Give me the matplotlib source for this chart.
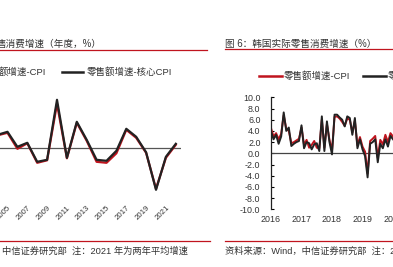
import numpy as np
import matplotlib
matplotlib.use("Agg")
import matplotlib.pyplot as plt
from matplotlib.lines import Line2D

plt.rcParams['font.family'] = ['Liberation Sans', 'Noto Sans CJK SC']

# left panel: annual data
years = list(range(2004, 2023))
left_cpi = [2.6, 3.1, -0.1, 1.0, -2.9, -2.4, 8.9, -2.0, 5.1, 1.5, -2.7,
            -2.9, -1.0, 3.7, 2.1, -0.9, -8.1, -1.9, 0.7]
left_core = [2.7, 3.3, 0.3, 1.1, -2.7, -2.3, 9.7, -1.9, 5.3, 1.7, -2.3,
             -2.5, -0.5, 3.9, 2.3, -0.8, -8.3, -1.7, 0.9]
left_ticks = list(range(2005, 2022, 2))

# right panel: monthly data from 2016-01
right_cpi = [4.5, 3.0, 3.6, 2.5, 3.5, 6.8, 4.4, 4.0, 1.8, 2.0, 2.3, 2.6,
             4.6, 1.5, 2.4, 1.0, 1.5, 2.2, 1.0, 0.9, 6.0, 1.0, 5.2, 2.4,
             0.5, 6.5, 6.6, 6.2, 5.6, 4.9, 6.2, 6.0, 3.7, 5.8, 1.4, 2.9,
             1.2, 0.3, -3.6, 2.2, 2.6, 3.1, -0.8, 2.4, 1.6, 3.3, 2.0, 3.6, 3.0]
right_core = [3.9, 2.5, 3.3, 1.7, 3.0, 7.3, 4.0, 4.6, 1.3, 1.7, 2.0, 2.2,
              5.0, 0.9, 2.0, 1.8, 0.7, 1.6, 1.8, 0.4, 6.6, 0.4, 5.7, 2.0,
              -0.2, 6.9, 6.9, 6.4, 6.0, 4.8, 6.6, 6.3, 3.3, 6.3, 0.9, 2.5,
              0.7, -0.5, -4.3, 1.7, 2.0, 2.5, -1.6, 1.7, 0.9, 2.5, 1.2, 3.1, 2.5]
right_years = ['2016', '2017', '2018', '2019', '2020']

W, H = 393, 267
fig = plt.figure(figsize=(W / 100, H / 100), dpi=100)

def fx(x):
    return x / W

def fy(y):
    return 1 - y / H

def hline(x0, x1, y, color, lw=0.9):
    fig.add_artist(Line2D([fx(x0), fx(x1)], [fy(y), fy(y)], color=color, lw=lw,
                          transform=fig.transFigure))

red = '#c0141e'
blk = '#222222'
txt = '#333333'

# ---- left panel ----
# x: 2005 at 7.5px, 9.9 px per year; axes from 0 to 181 px
axl = fig.add_axes([fx(0), fy(200), fx(181), (200 - 85) / H])
axl.set_xlim(2005 - 7.5 / 9.9, 2005 + (181 - 7.5) / 9.9)
axl.set_ylim((148.3 - 200) / 5, (148.3 - 85) / 5)
axl.axhline(0, color='#555555', lw=0.9)
axl.plot(years, left_cpi, color=red, lw=1.6)
axl.plot(years, left_core, color=blk, lw=1.6)
for s in axl.spines.values():
    s.set_visible(False)
axl.set_yticks([])
axl.set_xticks(left_ticks)
axl.set_xticklabels([str(y) for y in left_ticks], rotation=45, ha='right',
                    rotation_mode='anchor', fontsize=5.6, color=txt)
axl.tick_params(axis='x', length=0, pad=3)

fig.text(fx(-3), fy(44), '售消费增速（年度，%）', fontsize=6.9, color=txt,
         va='center', ha='left')
hline(0, 207, 49.5, red)
fig.text(fx(-1), fy(72), '额增速-CPI', fontsize=6.8, color=txt, va='center')
hline(62, 83, 72, blk, lw=1.8)
fig.text(fx(87), fy(72), '零售额增速-核心CPI', fontsize=6.8, color=txt, va='center')
hline(0, 210, 240.5, red)
fig.text(fx(2), fy(251), '中信证券研究部  注：2021 年为两年平均增速', fontsize=6.7,
         color=txt, va='center')

# ---- right panel ----
# 2.542 px per month, month 0 at 271 px; axes extends beyond figure edge
axr = fig.add_axes([fx(271), fy(209.3), fx(400 - 271), (209.3 - 97.3) / H])
axr.set_xlim(0, (400 - 271) / 2.542)
axr.set_ylim(-10, 10)
axr.axhline(0, color='#444444', lw=0.9)
months = np.arange(len(right_core))
axr.plot(months, right_cpi, color=red, lw=1.4)
axr.plot(months, right_core, color=blk, lw=1.4)
for k in ['top', 'right', 'bottom']:
    axr.spines[k].set_visible(False)
axr.spines['left'].set_color(blk)
axr.spines['left'].set_linewidth(0.9)
axr.set_yticks(np.arange(-10, 11, 2))
axr.set_yticklabels(['%.1f' % v for v in np.arange(-10, 11, 2)], fontsize=6.4, color=txt)
axr.tick_params(axis='y', direction='in', length=2.5, width=0.8, pad=7.5)
axr.set_xticks(np.arange(len(right_years)) * 12)
axr.set_xticklabels(right_years, fontsize=6.4, color=txt)
axr.tick_params(axis='x', length=0, pad=4)

fig.text(fx(225), fy(43.5), '图 6：韩国实际零售消费增速（%）', fontsize=6.9, color=txt,
         va='center')
hline(225, 393, 49, red)
hline(259, 282, 76, red, lw=1.8)
fig.text(fx(284), fy(76), '零售额增速-CPI', fontsize=6.8, color=txt, va='center')
hline(363, 386, 76, blk, lw=1.8)
fig.text(fx(388), fy(76), '零售额增速-核心CPI', fontsize=6.8, color=txt, va='center')
hline(225, 393, 240.5, red)
fig.text(fx(225), fy(251), '资料来源：Wind，中信证券研究部  注：2021 年为两年平均增速',
         fontsize=6.7, color=txt, va='center')

fig.savefig('out.png', dpi=100)
